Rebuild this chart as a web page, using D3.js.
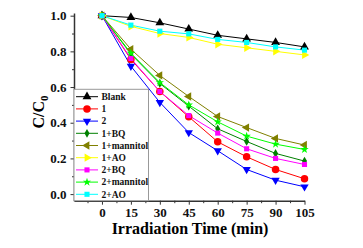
<!DOCTYPE html>
<html>
<head>
<meta charset="utf-8">
<script src="https://cdn.jsdelivr.net/npm/d3@7"></script>
<style>
  body { margin: 0; background: #fff; }
  svg text { font-family: "Liberation Serif", "Times New Roman", serif; font-weight: bold; }
</style>
</head>
<body>
<svg id="chart" width="363" height="248"></svg>
<script>
// time points (min)
const times = [0, 15, 30, 45, 60, 75, 90, 105];
const xTicks = [0, 15, 30, 45, 60, 75, 90, 105];
const yTicks = [0, 0.2, 0.4, 0.6, 0.8, 1.0];

// C/C0
const blank      = [1.0, 0.99, 0.96, 0.925, 0.89, 0.87, 0.85, 0.825];
const s1         = [1.0, 0.755, 0.575, 0.433, 0.293, 0.209, 0.138, 0.086];
const s2         = [1.0, 0.717, 0.514, 0.345, 0.243, 0.138, 0.078, 0.041];
const s1BQ       = [1.0, 0.785, 0.62, 0.493, 0.366, 0.295, 0.228, 0.185];
const s1mannitol = [1.0, 0.812, 0.665, 0.547, 0.435, 0.373, 0.312, 0.275];
const s1AO       = [1.0, 0.94, 0.90, 0.878, 0.84, 0.82, 0.80, 0.78];
const s2BQ       = [1.0, 0.76, 0.575, 0.44, 0.342, 0.254, 0.2, 0.166];
const s2mannitol = [1.0, 0.79, 0.625, 0.50, 0.405, 0.325, 0.28, 0.25];
const s2AO       = [1.0, 0.947, 0.913, 0.898, 0.867, 0.85, 0.825, 0.807];

const seriesNames = ["Blank", "1", "2", "1+BQ", "1+mannitol", "1+AO", "2+BQ", "2+mannitol", "2+AO"];
const seriesValues = [blank, s1, s2, s1BQ, s1mannitol, s1AO, s2BQ, s2mannitol, s2AO];
const colors = ["#000000", "#ff0000", "#0000ff", "#008000", "#808000", "#ffff00", "#ff00ff", "#00ff00", "#00ffff"];
// symbol type + rotation
const markers = [
  [d3.symbolTriangle, 0, 34],
  [d3.symbolCircle, 0, 44],
  [d3.symbolTriangle, 180, 30],
  [d3.symbolDiamond, 0, 22],
  [d3.symbolTriangle, -90, 30],
  [d3.symbolTriangle, 90, 30],
  [d3.symbolSquare, 0, 26],
  [d3.symbolStar, 0, 22],
  [d3.symbolSquare, 0, 26],
];

const svg = d3.select("#chart");

const x = d3.scaleLinear().domain([-14.5, 105]).range([74, 304.5]);
const y = d3.scaleLinear().domain([-0.037, 1.015]).range([200.7, 13]);

// series lines and markers
const line = d3.line().x((d, i) => x(times[i])).y(d => y(d));

seriesValues.forEach((vals, k) => {
  svg.append("path")
    .attr("d", line(vals))
    .attr("fill", "none")
    .attr("stroke", colors[k])
    .attr("stroke-width", 1);
});
seriesValues.forEach((vals, k) => {
  const [type, rot, size] = markers[k];
  const sym = d3.symbol().type(type).size(size);
  svg.append("g").selectAll("path")
    .data(vals)
    .join("path")
    .attr("d", sym)
    .attr("fill", colors[k])
    .attr("transform", (d, i) => `translate(${x(times[i])},${y(d)}) rotate(${rot})`);
});

// axes
svg.append("g").attr("transform", `translate(0,${y.range()[0]})`)
  .call(d3.axisBottom(x).tickValues(xTicks).tickSize(4).tickSizeOuter(0).tickPadding(3).tickFormat(d3.format("d")));
svg.append("g").attr("transform", `translate(0,${y.range()[0]})`)
  .call(d3.axisBottom(x).tickValues(d3.range(-7.5, 105, 15)).tickSize(2.5).tickSizeOuter(0).tickFormat(""))
  .select(".domain").remove();

svg.append("g").attr("transform", `translate(${x.range()[0]},0)`)
  .call(d3.axisLeft(y).tickValues(yTicks).tickSize(3.5).tickSizeOuter(0).tickPadding(4).tickFormat(d3.format(".1f")));
svg.append("g").attr("transform", `translate(${x.range()[0]},0)`)
  .call(d3.axisLeft(y).tickValues(d3.range(0.1, 1.0, 0.2)).tickSize(2).tickSizeOuter(0).tickFormat(""))
  .select(".domain").remove();

svg.selectAll(".domain").attr("stroke", "#333").attr("stroke-width", 1.5);
svg.selectAll(".tick line").attr("stroke", "#333").attr("stroke-width", 1);
svg.selectAll(".tick text").attr("fill", "#111").style("font-size", "13px");

// axis titles
svg.append("text")
  .attr("x", 190).attr("y", 234)
  .attr("text-anchor", "middle")
  .style("font-size", "16px")
  .text("Irradiation Time (min)");

const yl = svg.append("text")
  .attr("transform", "translate(44,112) rotate(-90)")
  .attr("text-anchor", "middle")
  .style("font-size", "16px");
yl.append("tspan").text("C/C");
yl.append("tspan").attr("dy", 4).style("font-size", "11px").text("0");

// legend
const legend = svg.append("g");
legend.append("rect")
  .attr("x", 74).attr("y", 89.3)
  .attr("width", 74.5).attr("height", 111.4)
  .attr("fill", "#fff").attr("stroke", "#999").attr("stroke-width", 1);

seriesNames.forEach((name, k) => {
  const cy = 96.7 + k * 12.2;
  const [type, rot, size] = markers[k];
  legend.append("line")
    .attr("x1", 76).attr("x2", 98).attr("y1", cy).attr("y2", cy)
    .attr("stroke", colors[k]).attr("stroke-width", 1);
  legend.append("path")
    .attr("d", d3.symbol().type(type).size(size)())
    .attr("fill", colors[k])
    .attr("transform", `translate(87,${cy}) rotate(${rot})`);
  legend.append("text")
    .attr("x", 101.5).attr("y", cy + 3.3)
    .style("font-size", "9.5px")
    .attr("fill", "#111")
    .text(name);
});
</script>
</body>
</html>
